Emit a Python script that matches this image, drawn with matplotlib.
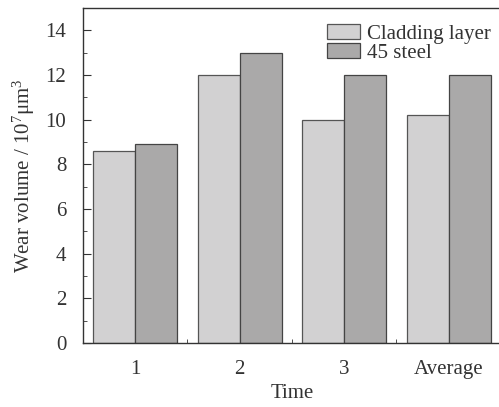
import numpy as np
import matplotlib.pyplot as plt
from matplotlib.ticker import MultipleLocator, FixedLocator

plt.rcParams['font.family'] = ['Liberation Serif', 'DejaVu Serif']
plt.rcParams['mathtext.fontset'] = 'custom'
plt.rcParams['mathtext.rm'] = 'Liberation Serif'
plt.rcParams['mathtext.it'] = 'Liberation Serif:italic'

times = ['1', '2', '3', 'Average']
cladding = [8.6, 12.0, 10.0, 10.2]
steel = [8.9, 13.0, 12.0, 12.0]

fig = plt.figure(figsize=(4.99, 4.07), dpi=100)
ax = fig.add_axes([0.1663, 0.157, 0.8377, 0.823])

x = np.arange(1, len(times) + 1)
w = 0.4
ax.bar(x - w / 2, cladding, w, color='#d2d1d2', edgecolor='#555555',
       linewidth=0.9, label='Cladding layer')
ax.bar(x + w / 2, steel, w, color='#aaa9a9', edgecolor='#444444',
       linewidth=0.9, label='45 steel')

ax.set_xlim(0.5, 4.5)
ax.set_ylim(0, 15)
ax.set_xticks(x)
ax.set_xticklabels(times)
ax.xaxis.set_minor_locator(FixedLocator([1.5, 2.5, 3.5]))
ax.yaxis.set_major_locator(MultipleLocator(2))
ax.yaxis.set_minor_locator(MultipleLocator(1))
ax.tick_params(axis='both', which='both', direction='in', labelsize=15,
               colors='#333333')
ax.tick_params(axis='x', which='major', length=0, pad=12)
ax.tick_params(axis='x', which='minor', length=3)
ax.tick_params(axis='y', which='major', length=6, pad=12)
ax.tick_params(axis='y', which='minor', length=3)
for s in ax.spines.values():
    s.set_color('#333333')
    s.set_linewidth(1.0)

ax.set_xlabel('Time', fontsize=15, color='#333333', labelpad=4)
ax.set_ylabel(r'Wear volume / 10$^{7}$μm$^{3}$', fontsize=15,
              color='#333333', labelpad=6)

ax.legend(loc='upper right', bbox_to_anchor=(1.005, 0.99), frameon=False,
          fontsize=15, handlelength=1.6, handleheight=0.75,
          labelspacing=-0.05, handletextpad=0.3, borderaxespad=0.2,
          labelcolor='#333333')

fig.savefig('out.png', dpi=100)
